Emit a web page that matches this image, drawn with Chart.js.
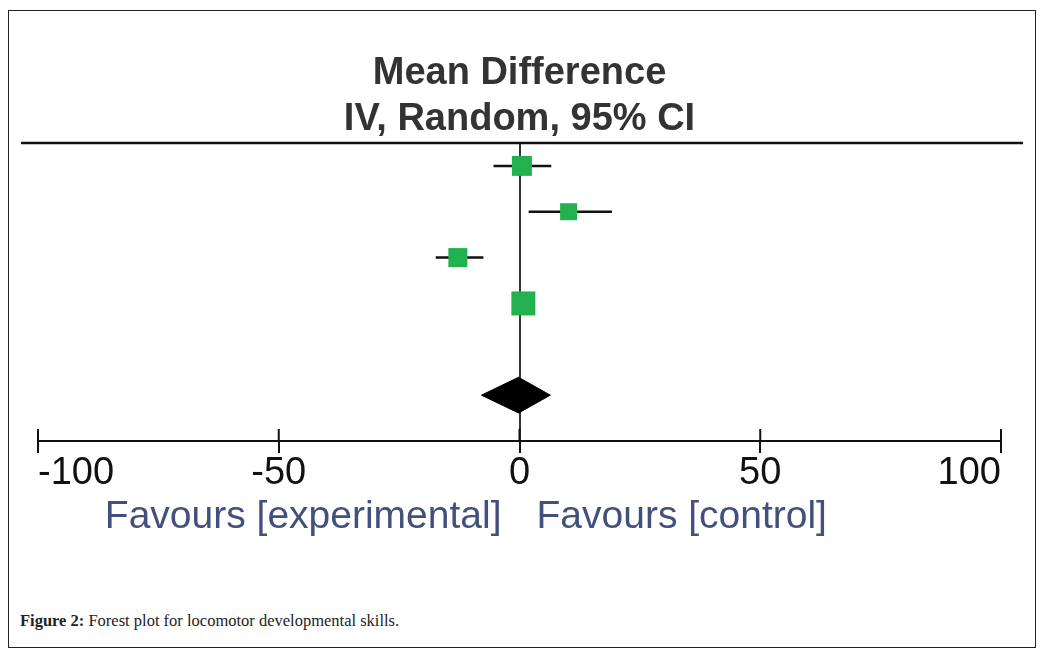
<!DOCTYPE html>
<html>
<head>
<meta charset="utf-8">
<script src="https://cdn.jsdelivr.net/npm/chart.js@4/dist/chart.umd.min.js"></script>
<style>
  body { margin: 0; background: #fff; }
  #frame { position: absolute; left: 8px; top: 10px; width: 1028px; height: 638px; border: 1px solid #222; box-sizing: border-box; }
  #wrap { position: absolute; left: 0; top: 0; width: 1046px; height: 560px; }
  #caption { position: absolute; left: 20px; top: 611px; font-family: "Liberation Serif", serif; font-size: 16.5px; color: #222; }
</style>
</head>
<body>
<div id="frame"></div>
<div id="wrap"><canvas id="forest"></canvas></div>
<div id="caption"><b>Figure 2:</b> Forest plot for locomotor developmental skills.</div>
<script>
// study rows (mean difference, 95% CI, weight %)
var studyRows = [1, 2, 3, 4];
var meanDiff = [0.5, 10.2, -12.8, 0.8];
var ciLow = [-5.4, 1.9, -17.4, -1.2];
var ciHigh = [6.6, 19.2, -7.5, 2.8];
var weights = [24.6, 17.8, 22.2, 35.4];

// pooled estimate (diamond)
var pooledRow = 6;
var pooledMean = -0.2;
var pooledLow = -7.9;
var pooledHigh = 6.4;

var xTicks = [-100, -50, 0, 50, 100];
var leftLabel = "Favours [experimental]";
var rightLabel = "Favours [control]";

var green = '#21b14f';

var squares = [];
for (var i = 0; i < studyRows.length; i++) {
    squares.push({x: meanDiff[i], y: studyRows[i]});
}
var squareRadius = weights.map(function (w) { return 2.85 * Math.sqrt(w); });

var datasets = [{
    label: 'studies',
    data: squares,
    pointStyle: 'rect',
    pointRadius: squareRadius,
    pointBackgroundColor: green,
    pointBorderColor: green,
    pointBorderWidth: 0,
    showLine: false
}, {
    label: 'pooled',
    data: [
        {x: pooledLow, y: pooledRow},
        {x: pooledMean, y: pooledRow - 0.39},
        {x: pooledHigh, y: pooledRow},
        {x: pooledMean, y: pooledRow + 0.39},
        {x: pooledLow, y: pooledRow}
    ],
    showLine: true,
    fill: 'shape',
    backgroundColor: '#000',
    borderColor: '#000',
    borderWidth: 1,
    pointRadius: 0,
    tension: 0
}];

for (var j = 0; j < studyRows.length; j++) {
    datasets.push({
        label: 'ci' + j,
        data: [{x: ciLow[j], y: studyRows[j]}, {x: ciHigh[j], y: studyRows[j]}],
        showLine: true,
        borderColor: '#111',
        borderWidth: 2.5,
        pointRadius: 0
    });
}

// header rule, upper halves of the ticks and the two "Favours" labels
var forestDecor = {
    id: 'forestDecor',
    afterDraw: function (chart) {
        var ctx = chart.ctx;
        var area = chart.chartArea;
        var xs = chart.scales.x;
        ctx.save();
        ctx.strokeStyle = '#111';
        ctx.lineWidth = 2.5;
        ctx.beginPath();
        ctx.moveTo(21, area.top);
        ctx.lineTo(1023, area.top);
        ctx.stroke();

        ctx.lineWidth = 2;
        ctx.beginPath();
        xTicks.forEach(function (t) {
            var px = xs.getPixelForValue(t);
            ctx.moveTo(px, area.bottom - 12);
            ctx.lineTo(px, area.bottom);
        });
        ctx.stroke();

        var zero = xs.getPixelForValue(0);
        ctx.font = '39px "Liberation Sans", Arial, sans-serif';
        ctx.fillStyle = '#434f7c';
        ctx.textBaseline = 'alphabetic';
        ctx.textAlign = 'right';
        ctx.fillText(leftLabel, zero - 18, 528);
        ctx.textAlign = 'left';
        ctx.fillText(rightLabel, zero + 17, 528);
        ctx.restore();
    }
};

var ctx = document.getElementById("forest").getContext("2d");

var forest = new Chart(ctx, {
    type: 'scatter',
    data: {datasets: datasets},
    options: {
        responsive: true,
        maintainAspectRatio: false,
        animation: false,
        layout: {padding: {left: 38, right: 45, top: 0, bottom: 59}},
        plugins: {
            legend: {display: false},
            tooltip: {enabled: false},
            title: {
                display: true,
                text: ['Mean Difference', 'IV, Random, 95% CI'],
                color: '#333',
                font: {family: '"Liberation Sans", Arial, sans-serif', size: 38, weight: 'bold', lineHeight: 1.21},
                padding: {top: 51, bottom: 0}
            }
        },
        scales: {
            x: {
                type: 'linear',
                min: -100,
                max: 100,
                afterBuildTicks: function (scale) {
                    scale.ticks = xTicks.map(function (v) { return {value: v}; });
                },
                afterFit: function (scale) { scale.height = 60; },
                border: {display: true, color: '#111', width: 2},
                grid: {
                    drawOnChartArea: true,
                    color: function (c) { return c.tick && c.tick.value === 0 ? '#333' : 'rgba(0,0,0,0)'; },
                    lineWidth: 2,
                    tickColor: '#111',
                    tickLength: 12,
                    tickWidth: 2
                },
                ticks: {
                    align: 'inner',
                    padding: -2,
                    color: '#111',
                    font: {family: '"Liberation Sans", Arial, sans-serif', size: 38}
                }
            },
            y: {
                display: false,
                reverse: true,
                min: 0.5,
                max: 7
            }
        }
    },
    plugins: [forestDecor]
});
</script>
</body>
</html>
